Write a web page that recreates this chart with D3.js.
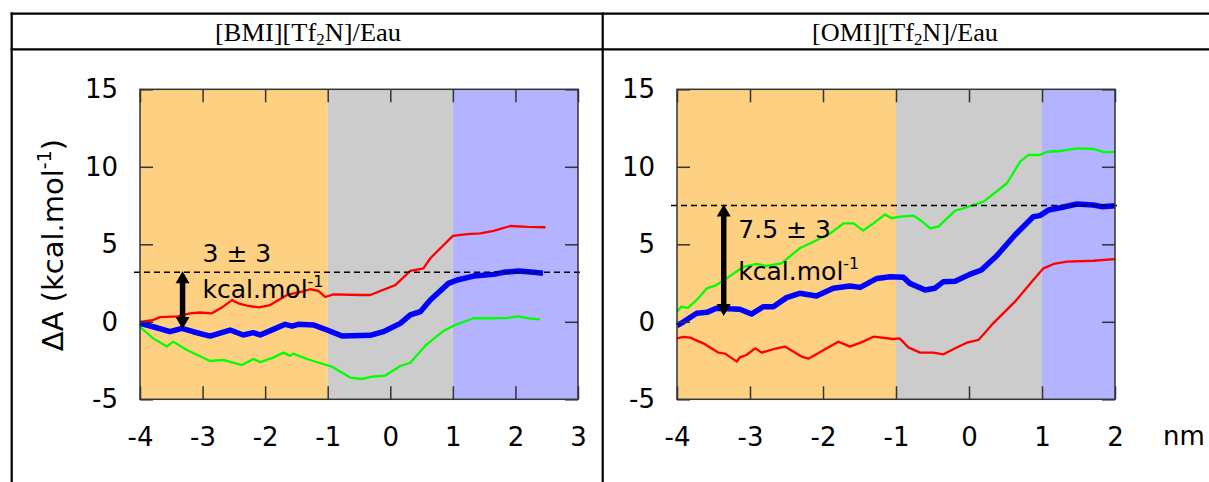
<!DOCTYPE html>
<html>
<head>
<meta charset="utf-8">
<script src="https://cdn.jsdelivr.net/npm/d3@7"></script>
<style>
  html, body { margin: 0; padding: 0; background: #fff; }
  svg { display: block; }
  .tick text { font-family: "DejaVu Sans", sans-serif; font-size: 26px; fill: #000; }
</style>
</head>
<body>
<svg id="chart" width="1209" height="482"></svg>
<script>
// values: [x (nm), dA (kcal/mol)]
const panelTitles = ['BMI', 'OMI'];
const yTicks = [-5, 0, 5, 10, 15];
const bmiXTicks = [-4, -3, -2, -1, 0, 1, 2, 3];
const omiXTicks = [-4, -3, -2, -1, 0, 1, 2];
const regionBounds = [-4, -1, 1]; // orange | gray | blue

const bmiRed = [[-4,0],[-3.8,0.1],[-3.68,0.3],[-3.4,0.35],[-3.2,0.55],[-3.04,0.6],[-2.85,0.55],[-2.7,0.9],
  [-2.53,1.4],[-2.4,1.15],[-2.29,1.04],[-2.1,0.93],[-1.92,1.08],[-1.65,1.73],[-1.41,1.94],[-1.28,2.1],
  [-1.15,2.0],[-1.04,1.6],[-0.91,1.77],[-0.48,1.73],[-0.32,1.73],[-0.16,1.99],[0.08,2.37],[0.32,3.28],
  [0.53,3.45],[0.64,4.1],[1.0,5.54],[1.23,5.66],[1.44,5.7],[1.65,5.86],[1.92,6.18],[2.19,6.12],[2.48,6.1]];
const bmiBlue = [[-4,-0.1],[-3.79,-0.32],[-3.52,-0.64],[-3.33,-0.42],[-3.15,-0.64],[-2.88,-0.92],[-2.56,-0.53],
  [-2.35,-0.85],[-2.19,-0.7],[-2.08,-0.85],[-1.87,-0.49],[-1.68,-0.16],[-1.57,-0.28],[-1.47,-0.16],[-1.23,-0.2],
  [-1.01,-0.53],[-0.77,-0.92],[-0.32,-0.87],[-0.11,-0.64],[0.16,-0.1],[0.32,0.44],[0.48,0.65],[0.64,1.41],
  [0.93,2.48],[1.07,2.7],[1.33,2.95],[1.65,3.06],[1.81,3.19],[2.05,3.28],[2.29,3.19],[2.44,3.13]];
const bmiGreen = [[-4,-0.32],[-3.79,-1.07],[-3.57,-1.6],[-3.47,-1.28],[-3.25,-1.82],[-2.88,-2.53],[-2.67,-2.46],
  [-2.37,-2.79],[-2.19,-2.4],[-2.08,-2.6],[-1.87,-2.31],[-1.71,-1.99],[-1.6,-2.2],[-1.55,-2.05],[-1.33,-2.4],
  [-1.23,-2.53],[-0.93,-2.9],[-0.64,-3.6],[-0.45,-3.69],[-0.29,-3.54],[-0.08,-3.47],[0.16,-2.85],[0.32,-2.64],
  [0.56,-1.54],[0.85,-0.59],[1.01,-0.25],[1.33,0.23],[1.65,0.23],[1.87,0.25],[2.05,0.35],[2.24,0.2],[2.39,0.16]];

const omiRed = [[-4,-1.07],[-3.91,-0.97],[-3.82,-1.02],[-3.64,-1.39],[-3.43,-1.99],[-3.34,-2.05],[-3.18,-2.57],
  [-3.14,-2.3],[-3.05,-2.14],[-2.93,-1.71],[-2.84,-1.99],[-2.68,-1.77],[-2.52,-1.6],[-2.29,-2.25],[-2.2,-2.38],
  [-1.99,-1.82],[-1.79,-1.28],[-1.63,-1.6],[-1.45,-1.28],[-1.31,-0.96],[-1.04,-1.11],[-0.95,-1.07],[-0.83,-1.65],
  [-0.67,-1.99],[-0.49,-1.99],[-0.35,-2.1],[-0.19,-1.71],[-0.03,-1.35],[0.13,-1.17],[0.31,-0.2],[0.63,1.3],
  [0.88,2.7],[1.02,3.45],[1.16,3.73],[1.34,3.88],[1.7,3.94],[2.0,4.05]];
const omiBlue = [[-4,-0.25],[-3.91,0],[-3.73,0.55],[-3.59,0.61],[-3.46,0.87],[-3.14,0.81],[-2.98,0.5],[-2.82,0.97],
  [-2.68,0.97],[-2.5,1.56],[-2.32,1.84],[-2.09,1.66],[-1.86,2.16],[-1.63,2.31],[-1.49,2.22],[-1.26,2.8],
  [-1.08,2.91],[-0.9,2.87],[-0.81,2.48],[-0.6,2.05],[-0.47,2.16],[-0.35,2.59],[-0.19,2.61],[0.01,3.06],
  [0.17,3.34],[0.38,4.26],[0.63,5.6],[0.88,6.78],[0.97,6.85],[1.09,7.21],[1.25,7.36],[1.48,7.6],[1.7,7.54],
  [1.82,7.43],[2.0,7.49]];
const omiGreen = [[-4,0.65],[-3.94,0.98],[-3.85,0.9],[-3.73,1.41],[-3.59,2.16],[-3.46,2.37],[-3.32,2.8],
  [-3.09,3.55],[-2.91,3.73],[-2.77,3.6],[-2.57,3.77],[-2.32,4.74],[-2.13,5.17],[-1.9,5.71],[-1.72,6.35],
  [-1.58,6.35],[-1.45,5.88],[-1.31,6.35],[-1.15,6.93],[-1.06,6.68],[-0.95,6.78],[-0.76,6.85],[-0.67,6.57],
  [-0.53,6.03],[-0.42,6.14],[-0.19,7.17],[-0.03,7.39],[0.2,7.75],[0.52,8.94],[0.7,10.33],[0.81,10.76],
  [0.97,10.76],[1.07,10.97],[1.25,11.02],[1.48,11.19],[1.7,11.15],[1.86,10.93],[2.0,10.96]];

// annotation: dashed level, arrow x and bottom, label x and two baselines
const bmiNote = { level: 3.2, arrowX: -3.32, arrowBottom: -0.4, textX: -3.0, line1: '3 ± 3', y1: 3.88, y2: 1.54 };
const omiNote = { level: 7.5, arrowX: -3.36, arrowBottom: 0.44, textX: -3.16, line1: '7.5 ± 3', y1: 5.39, y2: 2.7 };

const svg = d3.select('#chart');
const regionColors = ['#fdd082', '#cccccc', '#b3b3ff'];

// table grid
const grid = svg.append('g').attr('stroke', '#000').attr('stroke-width', 2.2);
grid.append('line').attr('x1', 10.6).attr('x2', 1209).attr('y1', 13.7).attr('y2', 13.7);
grid.append('line').attr('x1', 10.6).attr('x2', 1209).attr('y1', 49.3).attr('y2', 49.3);
grid.append('line').attr('x1', 11.7).attr('x2', 11.7).attr('y1', 12.6).attr('y2', 482);
grid.append('line').attr('x1', 602.7).attr('x2', 602.7).attr('y1', 12.6).attr('y2', 482);

function header(cx, name) {
  const t = svg.append('text').attr('x', cx).attr('y', 40.5)
    .attr('text-anchor', 'middle')
    .attr('font-family', '"Liberation Serif", "Times New Roman", serif')
    .attr('font-size', 25)
    .attr('textLength', 186).attr('lengthAdjust', 'spacingAndGlyphs');
  t.append('tspan').text(`[${name}][Tf`);
  t.append('tspan').attr('font-size', 16).attr('dy', 4).text('2');
  t.append('tspan').attr('dy', -4).text('N]/Eau');
}
header(308, panelTitles[0]);
header(905, panelTitles[1]);

const y = d3.scaleLinear().domain([-5, 15]).range([399.3, 89.3]);

function panel({ domain, range, xTicks, series, note }) {
  const x = d3.scaleLinear().domain(domain).range(range);
  const g = svg.append('g');

  const ends = [...regionBounds, domain[1]];
  g.selectAll('rect.region').data(regionColors).join('rect')
    .attr('x', (_, i) => x(ends[i])).attr('width', (_, i) => x(ends[i + 1]) - x(ends[i]))
    .attr('y', y(15)).attr('height', y(-5) - y(15)).attr('fill', d => d);

  const line = d3.line().x(d => x(d[0])).y(d => y(d[1]));
  series.forEach(s => {
    g.append('path').attr('d', line(s.data)).attr('fill', 'none')
      .attr('stroke', s.color).attr('stroke-width', s.width).attr('stroke-linejoin', 'round');
  });

  // dashed level + double arrow
  g.append('line').attr('x1', x(domain[0]) - 6).attr('x2', x(domain[1]) + 3)
    .attr('y1', y(note.level)).attr('y2', y(note.level))
    .attr('stroke', '#000').attr('stroke-width', 1.5).attr('stroke-dasharray', '6,4');
  g.append('line').attr('x1', x(note.arrowX)).attr('x2', x(note.arrowX))
    .attr('y1', y(note.level) + 10).attr('y2', y(note.arrowBottom) - 10)
    .attr('stroke', '#000').attr('stroke-width', 5.5);
  g.append('path').attr('fill', '#000')
    .attr('d', `M${x(note.arrowX)},${y(note.level) - 1}l-7,12h14z M${x(note.arrowX)},${y(note.arrowBottom) + 1}l-7,-12h14z`);

  const txt = g.append('g').attr('font-family', '"DejaVu Sans", sans-serif').attr('font-size', 25);
  txt.append('text').attr('x', x(note.textX)).attr('y', y(note.y1)).text(note.line1);
  const t2 = txt.append('text').attr('x', x(note.textX)).attr('y', y(note.y2));
  t2.append('tspan').text('kcal.mol');
  t2.append('tspan').attr('font-size', 16).attr('dy', -11).text('-1');

  // axes, ticks pointing inward on every side
  const bottom = g.append('g').attr('transform', `translate(0,${y(-5)})`)
    .call(d3.axisBottom(x).tickValues(xTicks).tickSize(-13).tickPadding(28).tickFormat(d3.format('d')));
  const top = g.append('g').attr('transform', `translate(0,${y(15)})`)
    .call(d3.axisTop(x).tickValues(xTicks).tickSize(-13).tickFormat(''));
  const left = g.append('g').attr('transform', `translate(${range[0]},0)`)
    .call(d3.axisLeft(y).tickValues(yTicks).tickSize(-13).tickPadding(22));
  const right = g.append('g').attr('transform', `translate(${range[1]},0)`)
    .call(d3.axisRight(y).tickValues(yTicks).tickSize(-13).tickFormat(''));
  [bottom, top, left, right].forEach(a => {
    a.select('.domain').remove();
    a.selectAll('.tick line').attr('stroke', '#333').attr('stroke-width', 1.5);
  });
  left.selectAll('.tick text').text(d => d < 0 ? '-' + Math.abs(d) : d);
  bottom.selectAll('.tick text').text(d => d < 0 ? '-' + Math.abs(d) : d);

  g.append('rect').attr('x', range[0]).attr('y', y(15))
    .attr('width', range[1] - range[0]).attr('height', y(-5) - y(15))
    .attr('fill', 'none').attr('stroke', '#333').attr('stroke-width', 1.5);
  return x;
}

panel({
  domain: [-4, 3], range: [140, 578], xTicks: bmiXTicks, note: bmiNote,
  series: [
    { data: bmiRed, color: '#ff0000', width: 2.3 },
    { data: bmiGreen, color: '#00ff00', width: 2.3 },
    { data: bmiBlue, color: '#0000ff', width: 5.5 }
  ]
});
const xr = panel({
  domain: [-4, 2], range: [677, 1115], xTicks: omiXTicks, note: omiNote,
  series: [
    { data: omiRed, color: '#ff0000', width: 2.3 },
    { data: omiGreen, color: '#00ff00', width: 2.3 },
    { data: omiBlue, color: '#0000ff', width: 5.5 }
  ]
});

svg.append('text').attr('x', xr(2) + 48).attr('y', 445)
  .attr('font-family', '"DejaVu Sans", sans-serif').attr('font-size', 26).text('nm');

const yt = svg.append('text').attr('transform', 'translate(63,245) rotate(-90)')
  .attr('text-anchor', 'middle')
  .attr('font-family', '"DejaVu Sans", sans-serif').attr('font-size', 29);
yt.append('tspan').text('ΔA (kcal.mol');
yt.append('tspan').attr('font-size', 19).attr('dy', -12).text('-1');
yt.append('tspan').attr('dy', 12).text(')');
</script>
</body>
</html>
